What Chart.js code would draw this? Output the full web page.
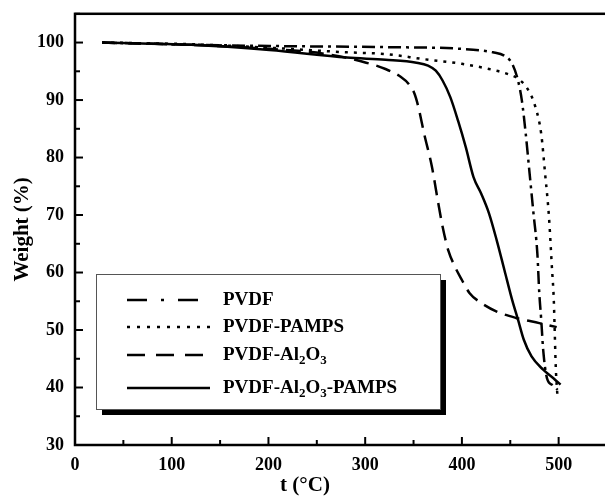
<!DOCTYPE html>
<html>
<head>
<meta charset="utf-8">
<script src="https://cdn.jsdelivr.net/npm/chart.js@4.4.1/dist/chart.umd.min.js"></script>
<style>
  html, body { margin: 0; padding: 0; background: #fff; overflow: hidden; }
  #wrap { width: 610px; height: 498px; }
</style>
</head>
<body>
<div id="wrap"><canvas id="tga"></canvas></div>
<script>
// TGA 曲線資料
const seriesNames = ['PVDF', 'PVDF-PAMPS', 'PVDF-Al2O3', 'PVDF-Al2O3-PAMPS'];

const pvdfT = [28, 100, 201, 321, 400, 432, 444, 452, 458, 462, 466, 470, 474, 478, 480, 482, 484, 488, 494, 499];
const pvdfW = [100, 99.7, 99.4, 99.2, 98.9, 98.3, 97.7, 96.3, 93.4, 89.9, 84.1, 77.2, 70.3, 63.3, 56.4, 51.8, 46.6, 41.6, 40.4, 39.6];

const pampsT = [28, 121, 201, 281, 321, 361, 400, 428, 448, 458, 468, 476, 482, 486, 490, 493, 495, 496, 497, 499];
const pampsW = [100, 99.7, 99.1, 98.3, 98.0, 97.1, 96.3, 95.4, 94.5, 93.7, 91.9, 88.8, 84.1, 77.2, 69.7, 61.0, 55.2, 49.5, 43.7, 37.9];

const alT = [28, 120, 201, 260, 301, 321, 337, 345, 351, 355, 361, 369, 375, 380, 386, 392, 400, 408, 420, 436, 456, 480, 498];
const alW = [100, 99.6, 98.9, 98.0, 96.5, 95.4, 94.0, 92.8, 91.1, 88.8, 84.1, 78.4, 72.6, 68.0, 63.8, 61.3, 58.7, 56.4, 54.7, 53.2, 52.1, 51.2, 50.5];

const compT = [28, 120, 201, 281, 321, 353, 365, 373, 380, 388, 396, 404, 412, 420, 428, 436, 444, 452, 458, 464, 472, 484, 496, 502];
const compW = [100, 99.6, 98.7, 97.4, 97.0, 96.5, 96.0, 95.1, 93.4, 90.5, 86.4, 81.8, 76.6, 73.7, 70.3, 65.6, 60.4, 55.2, 51.8, 48.3, 45.4, 43.1, 41.4, 40.5];

// 座標軸刻度
const xTicks = [0, 100, 200, 300, 400, 500];
const yTicks = [30, 40, 50, 60, 70, 80, 90, 100];

const FONT = '"Liberation Serif", "Times New Roman", serif';

const toPoints = (t, w) => t.map((v, i) => ({ x: v, y: w[i] }));

// 線型：主圖與圖例用不同的虛線長度
const styles = [
  { dash: [13, 5, 3, 5], legendDash: [20, 14, 3, 14] },
  { dash: [3, 6], legendDash: [3, 7] },
  { dash: [15, 8], legendDash: [18, 11] },
  { dash: [], legendDash: [] },
];

// 畫有下標的文字（Al2O3）
function drawSubText(ctx, text, x, y, size) {
  const parts = text.split(/(\d+)/);
  let cx = x;
  parts.forEach((p, i) => {
    if (!p) return;
    const sub = i % 2 === 1;
    ctx.font = 'bold ' + (sub ? Math.round(size * 0.68) : size) + 'px ' + FONT;
    ctx.fillText(p, cx, sub ? y + size * 0.3 : y);
    cx += ctx.measureText(p).width;
  });
}

const framePlugin = {
  id: 'frame',
  afterDraw(chart) {
    const ctx = chart.ctx;
    const { left, right, top, bottom } = chart.chartArea;
    const xs = chart.scales.x, ys = chart.scales.y;
    ctx.save();
    ctx.strokeStyle = '#000';
    ctx.lineWidth = 2.5;
    ctx.strokeRect(left, top, right - left, bottom - top);

    // 向內的刻度
    ctx.lineWidth = 2;
    for (let v = 0; v <= 550; v += 50) {
      const px = xs.getPixelForValue(v);
      const len = v % 100 === 0 ? 8 : 5;
      ctx.beginPath();
      ctx.moveTo(px, bottom);
      ctx.lineTo(px, bottom - len);
      ctx.stroke();
    }
    for (let v = 30; v <= 105; v += 5) {
      const py = ys.getPixelForValue(v);
      const len = v % 10 === 0 ? 8 : 5;
      ctx.beginPath();
      ctx.moveTo(left, py);
      ctx.lineTo(left + len, py);
      ctx.stroke();
    }

    // x 軸標題
    ctx.fillStyle = '#000';
    ctx.font = 'bold 21px ' + FONT;
    ctx.textAlign = 'center';
    ctx.textBaseline = 'middle';
    ctx.fillText('t (\u00B0C)', 305, 486);

    // 圖例（含陰影框）
    const bx = 96, by = 274, bw = 344, bh = 135;
    ctx.fillStyle = '#000';
    ctx.fillRect(bx + 6, by + 6, bw, bh);
    ctx.fillStyle = '#fff';
    ctx.fillRect(bx, by, bw, bh);
    ctx.strokeStyle = '#555';
    ctx.lineWidth = 1;
    ctx.strokeRect(bx + 0.5, by + 0.5, bw, bh);

    const rows = [300, 327, 355, 388];
    ctx.textAlign = 'left';
    ctx.textBaseline = 'middle';
    chart.data.datasets.forEach((ds, i) => {
      const y = rows[i];
      ctx.strokeStyle = '#000';
      ctx.lineWidth = 2.5;
      ctx.setLineDash(styles[i].legendDash);
      ctx.beginPath();
      ctx.moveTo(127, y);
      ctx.lineTo(210, y);
      ctx.stroke();
      ctx.setLineDash([]);
      ctx.fillStyle = '#000';
      drawSubText(ctx, ds.label, 223, y, 19);
    });
    ctx.restore();
  },
};

new Chart(document.getElementById('tga'), {
  type: 'line',
  data: {
    datasets: [
      toPoints(pvdfT, pvdfW),
      toPoints(pampsT, pampsW),
      toPoints(alT, alW),
      toPoints(compT, compW),
    ].map((pts, i) => ({
      label: seriesNames[i],
      data: pts,
      borderColor: '#000',
      borderWidth: 2.5,
      borderDash: styles[i].dash,
      pointRadius: 0,
      fill: false,
      cubicInterpolationMode: 'monotone',
    })),
  },
  options: {
    responsive: true,
    maintainAspectRatio: false,
    animation: false,
    layout: { padding: { top: 10, right: 3, left: 0, bottom: 0 } },
    plugins: {
      legend: { display: false },
      tooltip: { enabled: false },
    },
    scales: {
      x: {
        type: 'linear',
        min: 0, max: 550,
        afterBuildTicks: s => { s.ticks = xTicks.map(v => ({ value: v })); },
        afterFit: s => { s.height = 53; },
        grid: { display: false },
        border: { display: false },
        ticks: {
          color: '#000',
          padding: 2,
          font: { family: FONT, size: 18, weight: 'bold' },
        },
      },
      y: {
        min: 30, max: 105,
        afterBuildTicks: s => { s.ticks = yTicks.map(v => ({ value: v })); },
        afterFit: s => { s.width = 75; },
        grid: { display: false },
        border: { display: false },
        title: {
          display: true,
          text: 'Weight (%)',
          color: '#000',
          padding: { top: 10, bottom: 0 },
          font: { family: FONT, size: 21, weight: 'bold' },
        },
        ticks: {
          color: '#000',
          padding: 3,
          font: { family: FONT, size: 18, weight: 'bold' },
        },
      },
    },
  },
  plugins: [framePlugin],
});
</script>
</body>
</html>
